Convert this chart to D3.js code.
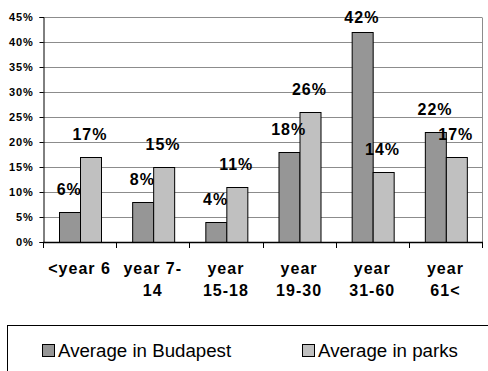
<!DOCTYPE html>
<html>
<head>
<meta charset="utf-8">
<script src="https://cdn.jsdelivr.net/npm/d3@7/dist/d3.min.js"></script>
<style>
  html, body { margin: 0; padding: 0; background: #fff; }
  svg { display: block; font-family: "Liberation Sans", Arial, sans-serif; }
</style>
</head>
<body>
<svg id="chart" width="488" height="371"></svg>
<script>
// Age groups and the share of visitors in each group
const categories = ["<year 6", "year 7-14", "year 15-18", "year 19-30", "year 31-60", "year 61<"];
const categoryLines = [["<year 6"], ["year 7-", "14"], ["year", "15-18"], ["year", "19-30"], ["year", "31-60"], ["year", "61<"]];
const seriesNames = ["Average in Budapest", "Average in parks"];
const budapest = [6, 8, 4, 18, 42, 22];
const parks = [17, 15, 11, 26, 14, 17];
const yTicks = [0, 5, 10, 15, 20, 25, 30, 35, 40, 45];

const colors = ["#969696", "#c0c0c0"];
const series = [budapest, parks];

const svg = d3.select("#chart");
const plot = { left: 43, right: 482, top: 17, bottom: 242 };

const x0 = d3.scaleBand().domain(categories).range([plot.left, plot.right]).padding(0);
const step = x0.bandwidth();
const x1 = d3.scaleBand().domain(seriesNames).range([step * 0.217, step * 0.783]).padding(0);
const y = d3.scaleLinear().domain([0, 45]).range([plot.bottom, plot.top]);

// horizontal gridlines
svg.append("g").selectAll("line").data(yTicks.filter(t => t > 0)).join("line")
  .attr("x1", plot.left).attr("x2", plot.right)
  .attr("y1", d => Math.round(y(d)) + 0.5).attr("y2", d => Math.round(y(d)) + 0.5)
  .attr("stroke", "#8c8c8c").attr("stroke-width", 1);

// right border of the plot area
svg.append("line")
  .attr("x1", plot.right + 0.5).attr("x2", plot.right + 0.5)
  .attr("y1", Math.round(y(45)) + 0.5).attr("y2", plot.bottom)
  .attr("stroke", "#8c8c8c");

// bars
const groups = svg.append("g").selectAll("g").data(categories).join("g")
  .attr("transform", d => `translate(${x0(d)},0)`);

groups.selectAll("rect")
  .data((c, i) => series.map((s, k) => ({ name: seriesNames[k], value: s[i], k })))
  .join("rect")
  .attr("x", d => Math.round(x1(d.name)) + 0.5)
  .attr("y", d => Math.round(y(d.value)) + 0.5)
  .attr("width", Math.round(x1.bandwidth()))
  .attr("height", d => Math.round(y(0)) - Math.round(y(d.value)))
  .attr("fill", d => colors[d.k])
  .attr("stroke", "#000").attr("stroke-width", 1);

// value labels
groups.selectAll("text.val")
  .data((c, i) => series.map((s, k) => ({ name: seriesNames[k], value: s[i], k })))
  .join("text").attr("class", "val")
  .attr("x", d => x1(d.name) + x1.bandwidth() / 2)
  .attr("y", d => Math.max(y(d.value) - 17, 23))
  .attr("text-anchor", "middle")
  .attr("font-size", 16).attr("font-weight", "bold").attr("letter-spacing", 1)
  .attr("fill", "#000")
  .text(d => d.value + "%");

// y axis
const yAxis = d3.axisLeft(y).tickValues(yTicks).tickSize(4).tickPadding(6)
  .tickFormat(d => d + "%");
const gy = svg.append("g").attr("transform", `translate(${plot.left + 0.5},0)`).call(yAxis);
gy.select(".domain").attr("stroke", "#000");
gy.selectAll(".tick line").attr("stroke", "#000");
gy.selectAll(".tick text")
  .attr("font-size", 11).attr("font-weight", "bold").attr("letter-spacing", 0.8)
  .attr("font-family", "Liberation Sans, Arial, sans-serif").attr("fill", "#000");

// x axis line with ticks between categories
svg.append("line")
  .attr("x1", plot.left).attr("x2", plot.right + 1)
  .attr("y1", plot.bottom + 0.5).attr("y2", plot.bottom + 0.5)
  .attr("stroke", "#000").attr("stroke-width", 1.5);
const boundaries = categories.map(c => x0(c)).concat([plot.right]);
svg.append("g").selectAll("line").data(boundaries).join("line")
  .attr("x1", d => Math.round(d) + 0.5).attr("x2", d => Math.round(d) + 0.5)
  .attr("y1", plot.bottom).attr("y2", plot.bottom + 6)
  .attr("stroke", "#000");

// category labels
const xl = svg.append("g").selectAll("text").data(categories).join("text")
  .attr("text-anchor", "middle")
  .attr("font-size", 16).attr("font-weight", "bold").attr("letter-spacing", 1)
  .attr("fill", "#000");
xl.each(function (c, i) {
  const t = d3.select(this);
  categoryLines[i].forEach((line, j) => {
    t.append("tspan")
      .attr("x", x0(c) + step / 2)
      .attr("y", 274 + j * 22)
      .text(line);
  });
});

// legend
svg.append("rect")
  .attr("x", 7.5).attr("y", 325.5).attr("width", 486).attr("height", 60)
  .attr("fill", "none").attr("stroke", "#000");
const legendX = [42, 302];
const lg = svg.append("g").selectAll("g").data(seriesNames).join("g")
  .attr("transform", (d, i) => `translate(${legendX[i]},344)`);
lg.append("rect")
  .attr("x", 0.5).attr("y", 0.5).attr("width", 12).attr("height", 12)
  .attr("fill", (d, i) => colors[i]).attr("stroke", "#000");
lg.append("text")
  .attr("x", 16).attr("y", 12.5)
  .attr("font-size", 18.7).attr("fill", "#000")
  .text(d => d);
</script>
</body>
</html>
